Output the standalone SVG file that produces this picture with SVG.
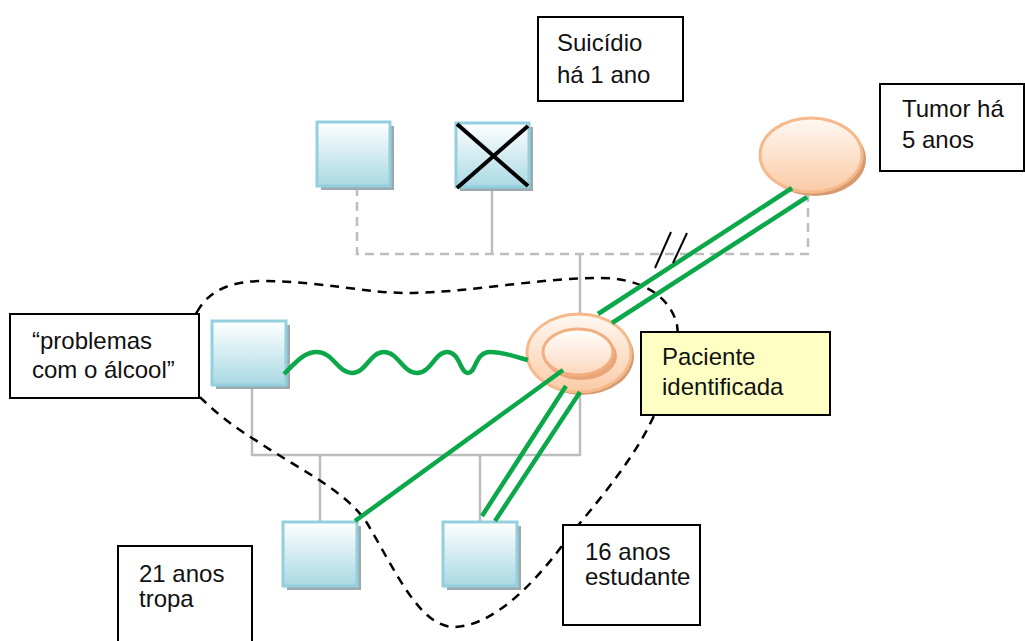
<svg xmlns="http://www.w3.org/2000/svg" width="1025" height="641" viewBox="0 0 1025 641">
<defs>
<linearGradient id="gBlue" x1="0" y1="0" x2="0" y2="1">
<stop offset="0" stop-color="#FFFFFF"/>
<stop offset="1" stop-color="#A9D9E3"/>
</linearGradient>
<linearGradient id="gOrange" x1="0" y1="0" x2="0" y2="1">
<stop offset="0" stop-color="#FFF8F2"/>
<stop offset="1" stop-color="#FBCBA6"/>
</linearGradient>
<linearGradient id="gOrange2" x1="0" y1="0" x2="0" y2="1">
<stop offset="0" stop-color="#FFFFFF"/>
<stop offset="1" stop-color="#FCD7BC"/>
</linearGradient>
<style>
.sq{fill:url(#gBlue);stroke:#93CFDD;stroke-width:3}
.sh{fill:#9CA9AE}
.osh{fill:#D79A70}
.el{fill:url(#gOrange);stroke:#F6B98C;stroke-width:3}
.el2{fill:url(#gOrange2);stroke:#F2AE7E;stroke-width:3}
.gray{stroke:#BDBDBD;stroke-width:2.5;fill:none}
.gdash{stroke:#BDBDBD;stroke-width:2.5;fill:none;stroke-dasharray:9,6}
.green{stroke:#0BA84A;stroke-width:4.5;fill:none}
.bound{stroke:#000;stroke-width:2.5;fill:none;stroke-dasharray:9,7}
.box{fill:#FFFFFF;stroke:#000;stroke-width:2}
.ybox{fill:#FFFFC4;stroke:#000;stroke-width:2}
.t{font-family:"Liberation Sans",Arial,sans-serif;font-size:24px;fill:#111}
</style>
</defs>

<g id="connectors-family">
<path class="gdash" d="M357,187 V254 H808 V195"/>
<path class="gray" d="M492,189 V254"/>
<path class="gray" d="M580,254 V314"/>
<path class="gray" d="M252,386 V455 H580 V393"/>
<path class="gray" d="M320,455 V522"/>
<path class="gray" d="M480,455 V522"/>
</g>

<g id="boundary">
<path class="bound" d="M197,312 C210,288 235,281 263,281 C320,281 370,294 413,293 C470,292 540,278 600,278 C640,278 670,295 677,325 C682,360 662,400 647,430 C625,470 595,505 570,535 C545,570 500,625 455,627 C420,628 395,570 367,523 C345,490 300,470 260,443 C235,428 215,412 203,400 C180,380 180,335 197,312 Z"/>
</g>

<g id="node-grandfather">
<rect class="sh" x="321" y="126" width="73" height="64"/>
<rect class="sq" x="317" y="122" width="73" height="64"/>
</g>

<g id="node-deceased">
<rect class="sh" x="460" y="127" width="73" height="64"/>
<rect class="sq" x="456" y="123" width="73" height="64"/>
<line x1="457" y1="124" x2="528" y2="186" stroke="#000" stroke-width="4"/>
<line x1="528" y1="126" x2="457" y2="188" stroke="#000" stroke-width="4"/>
</g>

<g id="node-tumor-mother">
<ellipse class="osh" cx="815" cy="159" rx="51" ry="37"/>
<ellipse class="el" cx="811" cy="155" rx="51" ry="37"/>
</g>

<g id="node-husband">
<rect class="sh" x="216" y="325" width="74" height="64"/>
<rect class="sq" x="212" y="321" width="74" height="64"/>
</g>

<g id="node-patient">
<ellipse class="osh" cx="582" cy="356" rx="52" ry="39"/>
<ellipse class="el" cx="579" cy="353" rx="52" ry="39"/>
<ellipse fill="#E8A678" cx="581" cy="356" rx="36" ry="24"/>
<ellipse class="el2" cx="578" cy="352" rx="35" ry="23"/>
</g>

<g id="node-child21">
<rect class="sh" x="287" y="526" width="74" height="64"/>
<rect class="sq" x="283" y="522" width="74" height="64"/>
</g>

<g id="node-child16">
<rect class="sh" x="447" y="526" width="74" height="64"/>
<rect class="sq" x="443" y="522" width="74" height="64"/>
</g>

<g id="connectors-relations">
<line class="green" x1="792" y1="188" x2="598" y2="314"/>
<line class="green" x1="807" y1="197" x2="612" y2="323"/>
<path class="green" d="M284,374 C298,360 305,352 317,352 C333,352 338,373 352,373 C366,373 370,352 384,352 C398,352 403,373 417,373 C431,373 435,352 447,352 C460,352 460,373 468,373 C476,373 475,352 490,352 C505,352 515,357 528,360"/>
<line class="green" x1="563" y1="370" x2="355" y2="521"/>
<line class="green" x1="566" y1="386" x2="482" y2="516"/>
<line class="green" x1="580" y1="392" x2="495" y2="521"/>
<line x1="671" y1="232" x2="655" y2="268" stroke="#000" stroke-width="2"/>
<line x1="687" y1="233" x2="673" y2="263" stroke="#000" stroke-width="2"/>
</g>

<g id="label-suicidio">
<rect class="box" x="538" y="17" width="145" height="84"/>
<text class="t" x="557" y="51">Suicídio</text>
<text class="t" x="557" y="83">há 1 ano</text>
</g>

<g id="label-tumor">
<rect class="box" x="880" y="84" width="144" height="87"/>
<text class="t" x="902" y="117">Tumor há</text>
<text class="t" x="902" y="148">5 anos</text>
</g>

<g id="label-alcool">
<rect class="box" x="10" y="314" width="189" height="84"/>
<text class="t" x="32" y="349">“problemas</text>
<text class="t" x="32" y="378">com o álcool”</text>
</g>

<g id="label-paciente">
<rect class="ybox" x="641" y="332" width="189" height="83"/>
<text class="t" x="662" y="365">Paciente</text>
<text class="t" x="662" y="395">identificada</text>
</g>

<g id="label-21">
<rect class="box" x="118" y="546" width="134" height="110"/>
<text class="t" x="139" y="582">21 anos</text>
<text class="t" x="139" y="607">tropa</text>
</g>

<g id="label-16">
<rect class="box" x="563" y="525" width="137" height="100"/>
<text class="t" x="585" y="560">16 anos</text>
<text class="t" x="585" y="585">estudante</text>
</g>
</svg>
